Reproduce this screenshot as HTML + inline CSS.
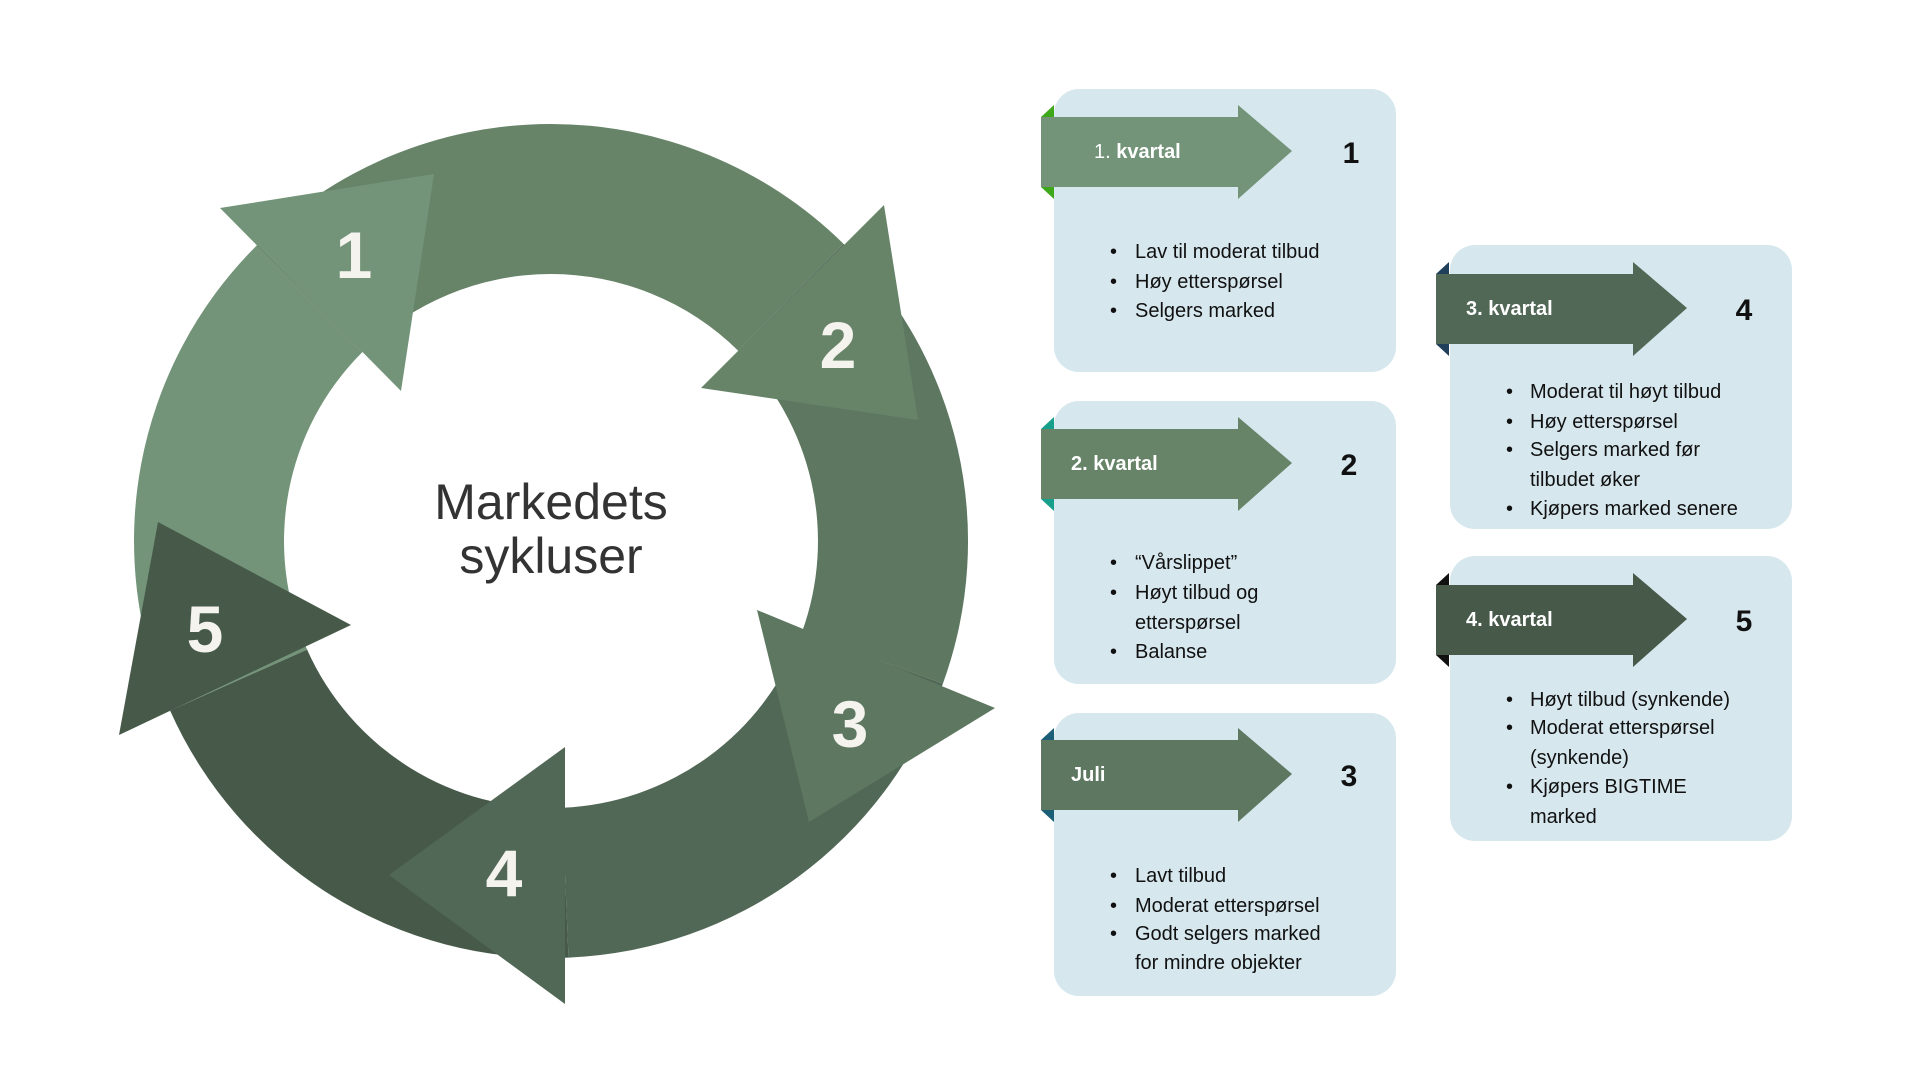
<!DOCTYPE html>
<html><head><meta charset="utf-8"><style>
html,body{margin:0;padding:0;background:#fff;}
svg{display:block;}
text{font-family:"Liberation Sans",sans-serif;}
</style></head><body>
<svg width="1920" height="1080" viewBox="0 0 1920 1080" xmlns="http://www.w3.org/2000/svg">
<rect width="1920" height="1080" fill="#fff"/>
<!-- cycle bodies -->
<path d="M170.1,710.6 A417,417 0 0 1 256.1,246.1 L362.2,352.2 A267,267 0 0 0 307.1,649.6Z" fill="#739479"/>
<path d="M256.1,246.1 A417,417 0 0 1 843.3,243.6 L738.1,350.6 A267,267 0 0 0 362.2,352.2Z" fill="#678469"/>
<path d="M843.3,243.6 A417,417 0 0 1 942.9,683.6 L801.9,632.3 A267,267 0 0 0 738.1,350.6Z" fill="#5d7761"/>
<path d="M942.9,683.6 A417,417 0 0 1 568.5,957.6 L562.2,807.8 A267,267 0 0 0 801.9,632.3Z" fill="#526856"/>
<path d="M568.5,957.6 A417,417 0 0 1 170.1,710.6 L307.1,649.6 A267,267 0 0 0 562.2,807.8Z" fill="#475a4a"/>
<!-- heads -->
<polygon points="220,208 401,391 434,174" fill="#739479"/>
<polygon points="884,205 701,388 918,420" fill="#678469"/>
<polygon points="995,708 757,610 809,822" fill="#5d7761"/>
<polygon points="565,747 565,1004 389,875" fill="#526856"/>
<polygon points="351,625 119,735 158,522" fill="#475a4a"/>
<g fill="#f5f3ee" font-weight="bold" font-size="66" text-anchor="middle">
<text x="354" y="278">1</text>
<text x="838" y="368">2</text>
<text x="850" y="747">3</text>
<text x="504" y="896">4</text>
<text x="205" y="652">5</text>
</g>
<g fill="#333" font-size="50" text-anchor="middle">
<text x="551" y="519">Markedets</text>
<text x="551" y="573">sykluser</text>
</g>
<!-- boxes -->
<g fill="#d6e7ee">
<rect x="1054" y="89" width="342" height="283" rx="25"/>
<rect x="1054" y="401" width="342" height="283" rx="25"/>
<rect x="1054" y="713" width="342" height="283" rx="25"/>
<rect x="1450" y="245" width="342" height="284" rx="25"/>
<rect x="1450" y="556" width="342" height="285" rx="25"/>
</g>
<!-- banners -->
<g>
<polygon points="1041,117 1054,105 1054,117" fill="#3ea81a"/><polygon points="1041,187 1054,187 1054,199" fill="#3ea81a"/>
<polygon points="1041,117 1238,117 1238,105 1292,151 1238,199 1238,187 1041,187" fill="#739479"/>
<text x="1094" y="158" fill="#fff" font-size="20">1. <tspan font-weight="bold">kvartal</tspan></text>
<text x="1351" y="163" fill="#111" font-size="30" font-weight="bold" text-anchor="middle">1</text>
</g>
<g transform="translate(0,312)">
<polygon points="1041,117 1054,105 1054,117" fill="#16a08c"/><polygon points="1041,187 1054,187 1054,199" fill="#16a08c"/>
<polygon points="1041,117 1238,117 1238,105 1292,151 1238,199 1238,187 1041,187" fill="#678469"/>
<text x="1071" y="158" fill="#fff" font-size="20" font-weight="bold">2. kvartal</text>
<text x="1349" y="163" fill="#111" font-size="30" font-weight="bold" text-anchor="middle">2</text>
</g>
<g transform="translate(0,623)">
<polygon points="1041,117 1054,105 1054,117" fill="#1b5e78"/><polygon points="1041,187 1054,187 1054,199" fill="#1b5e78"/>
<polygon points="1041,117 1238,117 1238,105 1292,151 1238,199 1238,187 1041,187" fill="#5d7761"/>
<text x="1071" y="158" fill="#fff" font-size="20" font-weight="bold">Juli</text>
<text x="1349" y="163" fill="#111" font-size="30" font-weight="bold" text-anchor="middle">3</text>
</g>
<g transform="translate(395,157)">
<polygon points="1041,117 1054,105 1054,117" fill="#1f3f5a"/><polygon points="1041,187 1054,187 1054,199" fill="#1f3f5a"/>
<polygon points="1041,117 1238,117 1238,105 1292,151 1238,199 1238,187 1041,187" fill="#526856"/>
<text x="1071" y="158" fill="#fff" font-size="20" font-weight="bold">3. kvartal</text>
<text x="1349" y="163" fill="#111" font-size="30" font-weight="bold" text-anchor="middle">4</text>
</g>
<g transform="translate(395,468)">
<polygon points="1041,117 1054,105 1054,117" fill="#111"/><polygon points="1041,187 1054,187 1054,199" fill="#111"/>
<polygon points="1041,117 1238,117 1238,105 1292,151 1238,199 1238,187 1041,187" fill="#475a4a"/>
<text x="1071" y="158" fill="#fff" font-size="20" font-weight="bold">4. kvartal</text>
<text x="1349" y="163" fill="#111" font-size="30" font-weight="bold" text-anchor="middle">5</text>
</g>
<!-- bullets -->
<g fill="#111" font-size="20">
<text x="1110" y="258">•</text><text x="1135" y="258">Lav til moderat tilbud</text>
<text x="1110" y="288">•</text><text x="1135" y="288">Høy etterspørsel</text>
<text x="1110" y="317">•</text><text x="1135" y="317">Selgers marked</text>

<text x="1110" y="569">•</text><text x="1135" y="569">“Vårslippet”</text>
<text x="1110" y="599">•</text><text x="1135" y="599">Høyt tilbud og</text>
<text x="1135" y="629">etterspørsel</text>
<text x="1110" y="658">•</text><text x="1135" y="658">Balanse</text>

<text x="1110" y="882">•</text><text x="1135" y="882">Lavt tilbud</text>
<text x="1110" y="912">•</text><text x="1135" y="912">Moderat etterspørsel</text>
<text x="1110" y="940">•</text><text x="1135" y="940">Godt selgers marked</text>
<text x="1135" y="969">for mindre objekter</text>

<text x="1506" y="398">•</text><text x="1530" y="398">Moderat til høyt tilbud</text>
<text x="1506" y="428">•</text><text x="1530" y="428">Høy etterspørsel</text>
<text x="1506" y="456">•</text><text x="1530" y="456">Selgers marked før</text>
<text x="1530" y="486">tilbudet øker</text>
<text x="1506" y="515">•</text><text x="1530" y="515">Kjøpers marked senere</text>

<text x="1506" y="706">•</text><text x="1530" y="706">Høyt tilbud (synkende)</text>
<text x="1506" y="734">•</text><text x="1530" y="734">Moderat etterspørsel</text>
<text x="1530" y="764">(synkende)</text>
<text x="1506" y="793">•</text><text x="1530" y="793">Kjøpers BIGTIME</text>
<text x="1530" y="823">marked</text>
</g>
</svg>
</body></html>
